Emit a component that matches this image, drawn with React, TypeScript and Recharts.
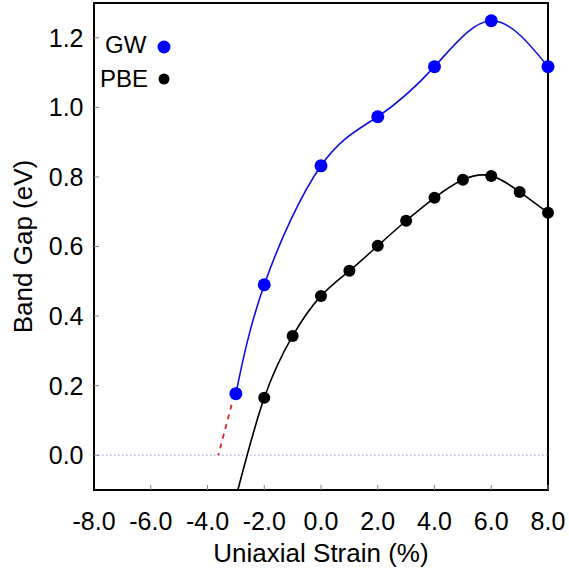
import React from "react";
import {
  ComposedChart,
  Line,
  XAxis,
  YAxis,
  ReferenceLine,
  ReferenceArea,
} from "recharts";

// Band gap vs uniaxial strain.
const seriesNames = ["GW", "PBE"];

const gwStrain = [-3, -2, 0, 2, 4, 6, 8];
const gwGap = [0.177, 0.49, 0.832, 0.973, 1.117, 1.249, 1.117];

const pbeStrain = [-2, -1, 0, 1, 2, 3, 4, 5, 6, 7, 8];
const pbeGap = [0.165, 0.343, 0.458, 0.53, 0.602, 0.674, 0.74, 0.792, 0.803, 0.757, 0.697];

// PBE fit continues below the last computed point, down to the frame.
const pbeFitStrain = [-2.93, ...pbeStrain];
const pbeFitGap = [-0.1, ...pbeGap];

// red dashed extrapolation of the GW gap towards zero
const gwExtraStrain = [-3.15, -3.62];
const gwExtraGap = [0.145, 0.0];

const xTicks = [-8, -6, -4, -2, 0, 2, 4, 6, 8];
const yTicks = [0, 0.2, 0.4, 0.6, 0.8, 1.0, 1.2];
const xRange = [-8, 8];
const yRange = [-0.1, 1.3];

const zip = (xs: number[], ys: number[]) => xs.map((x, i) => ({ x, y: ys[i] }));

const gwData = zip(gwStrain, gwGap);
const pbeData = zip(pbeStrain, pbeGap);
const pbeFit = zip(pbeFitStrain, pbeFitGap);
const gwExtra = zip(gwExtraStrain, gwExtraGap);

const FONT = '"Liberation Sans", Arial, sans-serif';
const BLUE = "#0000ff";

const App: React.FC = () => {
  return (
    <div style={{ position: "absolute", left: 0, top: 0, width: 569, height: 569, background: "#fff" }}>
      <ComposedChart width={569} height={569} margin={{ top: 3, right: 21, bottom: 0, left: 0 }}>
        <XAxis
          type="number"
          dataKey="x"
          domain={xRange}
          ticks={xTicks}
          tickFormatter={(v: number) => v.toFixed(1)}
          height={79}
          axisLine={{ stroke: "#000", strokeWidth: 2 }}
          tickLine={{ stroke: "#888" }}
          tickSize={-5}
          tickMargin={27}
          tick={{ fill: "#000", fontSize: 25, fontFamily: FONT }}
          allowDataOverflow
          label={{
            content: ({ viewBox }: any) => (
              <text
                x={viewBox.x + viewBox.width / 2}
                y={viewBox.y + 72}
                textAnchor="middle"
                fontSize={26}
                fontFamily={FONT}
                fill="#000"
              >
                Uniaxial Strain (%)
              </text>
            ),
          }}
        />
        <YAxis
          type="number"
          domain={yRange}
          ticks={yTicks}
          tickFormatter={(v: number) => v.toFixed(1)}
          width={94}
          axisLine={{ stroke: "#000", strokeWidth: 2 }}
          tickLine={{ stroke: "#888" }}
          tickSize={-5}
          tickMargin={15.5}
          tick={{ fill: "#000", fontSize: 25, fontFamily: FONT }}
          allowDataOverflow
          label={{
            content: ({ viewBox }: any) => {
              const cx = 23;
              const cy = viewBox.y + viewBox.height / 2;
              return (
                <text
                  x={cx}
                  y={cy}
                  transform={`rotate(-90 ${cx} ${cy})`}
                  textAnchor="middle"
                  dominantBaseline="central"
                  fontSize={26}
                  fontFamily={FONT}
                  fill="#000"
                >
                  Band Gap (eV)
                </text>
              );
            },
          }}
        />

        {/* closed frame around the plot */}
        <ReferenceArea
          x1={xRange[0]}
          x2={xRange[1]}
          y1={yRange[0]}
          y2={yRange[1]}
          fill="none"
          stroke="#000"
          strokeWidth={2}
          ifOverflow="visible"
        />

        <ReferenceLine y={0} stroke="#9a9ae0" strokeWidth={1} strokeDasharray="1.5 2.5" />

        {/* fitted curves */}
        <Line
          data={pbeFit}
          dataKey="y"
          type="natural"
          stroke="#000"
          strokeWidth={1.6}
          dot={false}
          activeDot={false}
          isAnimationActive={false}
        />
        <Line
          data={gwData}
          dataKey="y"
          type="natural"
          stroke="#1010dd"
          strokeWidth={1.6}
          dot={false}
          activeDot={false}
          isAnimationActive={false}
        />
        <Line
          data={gwExtra}
          dataKey="y"
          type="linear"
          stroke="#e02020"
          strokeWidth={1.8}
          strokeDasharray="5 5"
          dot={false}
          activeDot={false}
          isAnimationActive={false}
        />

        {/* computed points, drawn over the frame at the right edge */}
        <Line
          data={pbeData}
          dataKey="y"
          stroke="none"
          dot={{ r: 6, fill: "#000", stroke: "none", clipDot: false } as any}
          activeDot={false}
          isAnimationActive={false}
        />
        <Line
          data={gwData}
          dataKey="y"
          stroke="none"
          dot={{ r: 6.5, fill: BLUE, stroke: "none", clipDot: false } as any}
          activeDot={false}
          isAnimationActive={false}
        />
      </ComposedChart>

      {/* key in the top-left corner of the frame */}
      <svg width={569} height={569} style={{ position: "absolute", left: 0, top: 0, pointerEvents: "none" }}>
        <text x={105} y={53} fontSize={24} fontFamily={FONT} fill="#000">
          {seriesNames[0]}
        </text>
        <circle cx={164} cy={47} r={6.5} fill={BLUE} />
        <text x={100} y={86.5} fontSize={24} fontFamily={FONT} fill="#000">
          {seriesNames[1]}
        </text>
        <circle cx={164} cy={79} r={5.5} fill="#000" />
      </svg>
    </div>
  );
};

export default App;
